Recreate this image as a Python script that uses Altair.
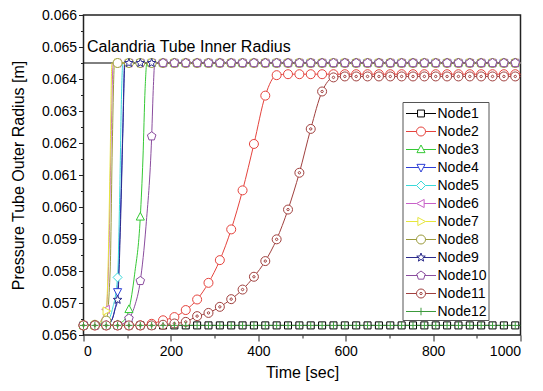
import re
import altair as alt
import pandas as pd

# ---------------- data ----------------
T = [0, 26, 52, 78, 104, 130, 156, 182, 208, 234, 260, 286, 312,
     338, 364, 390, 416, 442, 468, 494, 520, 546, 572, 598, 624, 650,
     676, 702, 728, 754, 780, 806, 832, 858, 884, 910, 936, 962, 988]

NODES = ["Node1", "Node2", "Node3", "Node4", "Node5", "Node6",
         "Node7", "Node8", "Node9", "Node10", "Node11", "Node12"]

node1 = [0.05630, 0.05630, 0.05630, 0.05630, 0.05630, 0.05630, 0.05630, 0.05630, 0.05630, 0.05630, 0.05630, 0.05630, 0.05630,
         0.05630, 0.05630, 0.05630, 0.05630, 0.05630, 0.05630, 0.05630, 0.05630, 0.05630, 0.05630, 0.05630, 0.05630, 0.05630,
         0.05630, 0.05630, 0.05630, 0.05630, 0.05630, 0.05630, 0.05630, 0.05630, 0.05630, 0.05630, 0.05630, 0.05630, 0.05630]
node2 = [0.05630, 0.05630, 0.05630, 0.05630, 0.05630, 0.05630, 0.05635, 0.05646, 0.05656, 0.05678, 0.05711, 0.05763, 0.05834,
         0.05930, 0.06052, 0.06197, 0.06348, 0.06412, 0.06415, 0.06415, 0.06415, 0.06415, 0.06415, 0.06415, 0.06415, 0.06415,
         0.06415, 0.06415, 0.06415, 0.06415, 0.06415, 0.06415, 0.06415, 0.06415, 0.06415, 0.06415, 0.06415, 0.06415, 0.06415]
node3 = [0.05630, 0.05630, 0.05630, 0.05633, 0.05680, 0.05969, 0.06450, 0.06450, 0.06450, 0.06450, 0.06450, 0.06450, 0.06450,
         0.06450, 0.06450, 0.06450, 0.06450, 0.06450, 0.06450, 0.06450, 0.06450, 0.06450, 0.06450, 0.06450, 0.06450, 0.06450,
         0.06450, 0.06450, 0.06450, 0.06450, 0.06450, 0.06450, 0.06450, 0.06450, 0.06450, 0.06450, 0.06450, 0.06450, 0.06450]
node4 = [0.05630, 0.05630, 0.05630, 0.05735, 0.06450, 0.06450, 0.06450, 0.06450, 0.06450, 0.06450, 0.06450, 0.06450, 0.06450,
         0.06450, 0.06450, 0.06450, 0.06450, 0.06450, 0.06450, 0.06450, 0.06450, 0.06450, 0.06450, 0.06450, 0.06450, 0.06450,
         0.06450, 0.06450, 0.06450, 0.06450, 0.06450, 0.06450, 0.06450, 0.06450, 0.06450, 0.06450, 0.06450, 0.06450, 0.06450]
node5 = [0.05630, 0.05630, 0.05640, 0.05780, 0.06450, 0.06450, 0.06450, 0.06450, 0.06450, 0.06450, 0.06450, 0.06450, 0.06450,
         0.06450, 0.06450, 0.06450, 0.06450, 0.06450, 0.06450, 0.06450, 0.06450, 0.06450, 0.06450, 0.06450, 0.06450, 0.06450,
         0.06450, 0.06450, 0.06450, 0.06450, 0.06450, 0.06450, 0.06450, 0.06450, 0.06450, 0.06450, 0.06450, 0.06450, 0.06450]
node6 = [0.05630, 0.05630, 0.05680, 0.06450, 0.06450, 0.06450, 0.06450, 0.06450, 0.06450, 0.06450, 0.06450, 0.06450, 0.06450,
         0.06450, 0.06450, 0.06450, 0.06450, 0.06450, 0.06450, 0.06450, 0.06450, 0.06450, 0.06450, 0.06450, 0.06450, 0.06450,
         0.06450, 0.06450, 0.06450, 0.06450, 0.06450, 0.06450, 0.06450, 0.06450, 0.06450, 0.06450, 0.06450, 0.06450, 0.06450]
node7 = [0.05630, 0.05630, 0.05675, 0.06450, 0.06450, 0.06450, 0.06450, 0.06450, 0.06450, 0.06450, 0.06450, 0.06450, 0.06450,
         0.06450, 0.06450, 0.06450, 0.06450, 0.06450, 0.06450, 0.06450, 0.06450, 0.06450, 0.06450, 0.06450, 0.06450, 0.06450,
         0.06450, 0.06450, 0.06450, 0.06450, 0.06450, 0.06450, 0.06450, 0.06450, 0.06450, 0.06450, 0.06450, 0.06450, 0.06450]
node8 = [0.05630, 0.05632, 0.05645, 0.06450, 0.06450, 0.06450, 0.06450, 0.06450, 0.06450, 0.06450, 0.06450, 0.06450, 0.06450,
         0.06450, 0.06450, 0.06450, 0.06450, 0.06450, 0.06450, 0.06450, 0.06450, 0.06450, 0.06450, 0.06450, 0.06450, 0.06450,
         0.06450, 0.06450, 0.06450, 0.06450, 0.06450, 0.06450, 0.06450, 0.06450, 0.06450, 0.06450, 0.06450, 0.06450, 0.06450]
node9 = [0.05630, 0.05630, 0.05630, 0.05710, 0.06450, 0.06450, 0.06450, 0.06450, 0.06450, 0.06450, 0.06450, 0.06450, 0.06450,
         0.06450, 0.06450, 0.06450, 0.06450, 0.06450, 0.06450, 0.06450, 0.06450, 0.06450, 0.06450, 0.06450, 0.06450, 0.06450,
         0.06450, 0.06450, 0.06450, 0.06450, 0.06450, 0.06450, 0.06450, 0.06450, 0.06450, 0.06450, 0.06450, 0.06450, 0.06450]
node10 = [0.05630, 0.05630, 0.05630, 0.05630, 0.05652, 0.05769, 0.06221, 0.06450, 0.06450, 0.06450, 0.06450, 0.06450, 0.06450,
          0.06450, 0.06450, 0.06450, 0.06450, 0.06450, 0.06450, 0.06450, 0.06450, 0.06450, 0.06450, 0.06450, 0.06450, 0.06450,
          0.06450, 0.06450, 0.06450, 0.06450, 0.06450, 0.06450, 0.06450, 0.06450, 0.06450, 0.06450, 0.06450, 0.06450, 0.06450]
node11 = [0.05630, 0.05630, 0.05630, 0.05630, 0.05630, 0.05630, 0.05630, 0.05632, 0.05636, 0.05641, 0.05659, 0.05669, 0.05688,
          0.05712, 0.05742, 0.05782, 0.05831, 0.05899, 0.05992, 0.06107, 0.06244, 0.06361, 0.06405, 0.06408, 0.06408, 0.06408,
          0.06408, 0.06408, 0.06408, 0.06408, 0.06408, 0.06408, 0.06408, 0.06408, 0.06408, 0.06408, 0.06408, 0.06408, 0.06408]
node12 = [0.05630, 0.05630, 0.05630, 0.05630, 0.05630, 0.05630, 0.05630, 0.05630, 0.05630, 0.05630, 0.05630, 0.05630, 0.05630,
          0.05630, 0.05630, 0.05630, 0.05630, 0.05630, 0.05630, 0.05630, 0.05630, 0.05630, 0.05630, 0.05630, 0.05630, 0.05630,
          0.05630, 0.05630, 0.05630, 0.05630, 0.05630, 0.05630, 0.05630, 0.05630, 0.05630, 0.05630, 0.05630, 0.05630, 0.05630]

VALUES = [node1, node2, node3, node4, node5, node6,
          node7, node8, node9, node10, node11, node12]

# extra line points (no symbol) along the steep rises
EXTRA_T = {
    "Node3": [92, 117, 136, 141, 145],
    "Node4": [64, 71, 85, 90, 94],
    "Node5": [66, 83, 87, 90],
    "Node6": [58, 63, 68],
    "Node7": [56, 61, 65],
    "Node8": [61, 66, 71],
    "Node9": [66, 72, 85, 90, 95],
    "Node10": [117, 143, 160, 163],
}
EXTRA_V = {
    "Node3": [0.05645, 0.05790, 0.06150, 0.06370, 0.06450],
    "Node4": [0.05645, 0.05675, 0.06000, 0.06250, 0.06450],
    "Node5": [0.05680, 0.06050, 0.06350, 0.06450],
    "Node6": [0.05850, 0.06200, 0.06450],
    "Node7": [0.05800, 0.06150, 0.06450],
    "Node8": [0.05800, 0.06200, 0.06450],
    "Node9": [0.05650, 0.05680, 0.05960, 0.06230, 0.06450],
    "Node10": [0.05690, 0.05940, 0.06380, 0.06450],
}
T_END = 1000
CALANDRIA = 0.0645

X_TICKS = [0, 100, 200, 300, 400, 500, 600, 700, 800, 900, 1000]
Y_TICKS = [0.056, 0.0565, 0.057, 0.0575, 0.058, 0.0585, 0.059, 0.0595, 0.060, 0.0605,
           0.061, 0.0615, 0.062, 0.0625, 0.063, 0.0635, 0.064, 0.0645, 0.065, 0.0655, 0.066]

# ---------------- styles ----------------
COLORS = ["#000000", "#E5433D", "#35C935", "#2E3FD6", "#3ADADA", "#C860C8",
          "#E6E63C", "#9A9A3A", "#2C2C8C", "#8A4C9E", "#A0403E", "#3C9A3C"]

CIRCLE = "M1,0A1,1 0 1,1 -1,0A1,1 0 1,1 1,0Z"
PLOT_SHAPES = [
    "M-0.78,-0.78L0.78,-0.78L0.78,0.78L-0.78,0.78Z",
    CIRCLE,
    "M0,-1L0.9,0.7L-0.9,0.7Z",
    "M0,1L0.9,-0.7L-0.9,-0.7Z",
    "M0,-1L1,0L0,1L-1,0Z",
    "M-1,0L0.7,-0.9L0.7,0.9Z",
    "M1,0L-0.7,-0.9L-0.7,0.9Z",
    CIRCLE,
    "M0,-1L0.247,-0.34L0.951,-0.309L0.399,0.13L0.588,0.809L0,0.42L-0.588,0.809L-0.399,0.13L-0.951,-0.309L-0.247,-0.34Z",
    "M0,-1L0.951,-0.309L0.588,0.809L-0.588,0.809L-0.951,-0.309Z",
    CIRCLE + "M0.27,0A0.27,0.27 0 1,1 -0.27,0A0.27,0.27 0 1,1 0.27,0Z",
    "M-0.78,0L0.78,0M0,-0.78L0,0.78",
]
LC = "M0.3,0A0.3,0.3 0 1,1 -0.3,0A0.3,0.3 0 1,1 0.3,0Z"
LEG_BASE = [
    "M-1,0L-0.23,0M0.23,0L1,0M-0.23,-0.23L0.23,-0.23L0.23,0.23L-0.23,0.23Z",
    "M-1,0L-0.3,0M0.3,0L1,0" + LC,
    "M-1,0L-0.16,0M0.16,0L1,0M0,-0.3L0.27,0.21L-0.27,0.21Z",
    "M-1,0L-0.16,0M0.16,0L1,0M0,0.3L0.27,-0.21L-0.27,-0.21Z",
    "M-1,0L-0.3,0M0.3,0L1,0M0,-0.3L0.3,0L0,0.3L-0.3,0Z",
    "M-1,0L-0.3,0M0.21,0L1,0M-0.3,0L0.21,-0.27L0.21,0.27Z",
    "M-1,0L-0.21,0M0.3,0L1,0M0.3,0L-0.21,-0.27L-0.21,0.27Z",
    "M-1,0L-0.3,0M0.3,0L1,0" + LC,
    "M-1,0L-0.16,0M0.16,0L1,0M0,-0.3L0.074,-0.102L0.285,-0.093L0.12,0.039L0.176,0.243L0,0.126L-0.176,0.243L-0.12,0.039L-0.285,-0.093L-0.074,-0.102Z",
    "M-1,0L-0.255,0M0.255,0L1,0M0,-0.3L0.285,-0.093L0.176,0.243L-0.176,0.243L-0.285,-0.093Z",
    "M-1,0L-0.3,0M0.3,0L1,0" + LC + "M0.08,0A0.08,0.08 0 1,1 -0.08,0A0.08,0.08 0 1,1 0.08,0Z",
    "M-1,0L1,0M0,-0.25L0,0.25",
]


def _scale_path(p, k, dx):
    # scale path coordinates by k and shift x by dx (arc flags untouched)
    out = []
    for seg in re.split(r"(?=[MLAZ])", p):
        if not seg:
            continue
        cmd, body = seg[0], seg[1:]
        if cmd == "A":
            a = body.replace(" ", ",").split(",")
            out.append(f"A{float(a[0])*k:g},{float(a[1])*k:g} {a[2]} {a[3]},{a[4]} "
                       f"{float(a[5])*k + dx:g},{float(a[6])*k:g}")
        elif cmd == "Z":
            out.append("Z")
        else:
            x, y = body.split(",")
            out.append(f"{cmd}{float(x)*k + dx:g},{float(y)*k:g}")
    return "".join(out)


# legend symbol: unit = 10 px (symbolSize 400)
LEG_SHAPES = [_scale_path(p, 1.5, 0.7) for p in LEG_BASE]

FONT = "Liberation Sans"

# ---------------- table ----------------
rows = []
for i, (name, vals) in enumerate(zip(NODES, VALUES)):
    for t, v in zip(T, vals):
        rows.append({"node": name, "idx": i, "t": t, "v": v, "m": True})
    for t, v in zip(EXTRA_T.get(name, []), EXTRA_V.get(name, [])):
        rows.append({"node": name, "idx": i, "t": t, "v": v, "m": False})
    rows.append({"node": name, "idx": i, "t": T_END, "v": vals[-1], "m": False})
df = pd.DataFrame(rows).sort_values(["idx", "t"])

x_axis = alt.Axis(
    values=X_TICKS, format="d",
    labelExpr="datum.value % 200 === 0 ? datum.label : ''",
    tickSize={"condition": {"test": "datum.value % 200 === 0", "value": 6}, "value": 3},
    title="Time [sec]", grid=False, domain=False, labelOverlap=False,
    labelFontSize=14, titleFontSize=16, titleFontWeight="normal",
    labelPadding=3, titlePadding=6, tickColor="#222", labelColor="black",
)
y_axis = alt.Axis(
    values=Y_TICKS, format=".3f",
    labelExpr="round(datum.value * 2000) % 2 === 0 ? datum.label : ''",
    tickSize={"condition": {"test": "round(datum.value * 2000) % 2 === 0", "value": 5}, "value": 3},
    title="Pressure Tube Outer Radius  [m]", grid=False, domain=False, labelOverlap=False,
    labelFontSize=14, titleFontSize=16, titleFontWeight="normal",
    labelPadding=2, titlePadding=15, tickColor="#222", labelColor="black",
)
xs = alt.Scale(domain=[0, 1000], nice=False)
ys = alt.Scale(domain=[0.056, 0.066], nice=False, zero=False)

legend = alt.Legend(
    orient="none", legendX=319, legendY=87, title=None,
    labelFontSize=14, labelFont=FONT, symbolSize=400, symbolStrokeWidth=1,
    symbolOffset=0, labelOffset=13,
    padding=1, rowPadding=-2.5, strokeColor="#555",
    fillColor="white", symbolFillColor="transparent",
)

base = alt.Chart(df)

ref = alt.Chart(pd.DataFrame({"t": [0], "t2": [T_END], "v": [CALANDRIA]})).mark_rule(
    color="black", strokeWidth=1
).encode(x=alt.X("t:Q", scale=xs, axis=x_axis), x2="t2:Q", y=alt.Y("v:Q", scale=ys, axis=y_axis))

label = alt.Chart(pd.DataFrame({"t": [8], "v": [0.0650], "s": ["Calandria Tube Inner Radius"]})).mark_text(
    align="left", baseline="middle", fontSize=16, font=FONT, color="black"
).encode(x=alt.X("t:Q", scale=xs, axis=x_axis), y=alt.Y("v:Q", scale=ys, axis=y_axis), text="s:N")

lines = base.mark_line(strokeWidth=1, interpolate="monotone").encode(
    x=alt.X("t:Q", scale=xs, axis=x_axis), y=alt.Y("v:Q", scale=ys, axis=y_axis),
    stroke=alt.Stroke("node:N", scale=alt.Scale(domain=NODES, range=COLORS), legend=None),
    detail="node:N",
)

points = base.transform_filter("datum.m").mark_point(
    filled=True, fill="white", size=81, strokeWidth=1, opacity=1
).encode(
    x=alt.X("t:Q", scale=xs, axis=x_axis), y=alt.Y("v:Q", scale=ys, axis=y_axis),
    stroke=alt.Stroke("node:N", scale=alt.Scale(domain=NODES, range=COLORS), legend=None),
    shape=alt.Shape("node:N", scale=alt.Scale(domain=NODES, range=PLOT_SHAPES), legend=None),
    order=alt.Order("idx:Q"),
)

leg = base.transform_filter("false").mark_point(filled=False, strokeWidth=1, opacity=1).encode(
    x=alt.X("t:Q", scale=xs, axis=x_axis), y=alt.Y("v:Q", scale=ys, axis=y_axis),
    stroke=alt.Stroke("node:N", scale=alt.Scale(domain=NODES, range=COLORS), legend=legend),
    shape=alt.Shape("node:N", scale=alt.Scale(domain=NODES, range=LEG_SHAPES), legend=legend),
)

chart = alt.layer(ref, label, lines, points, leg).resolve_scale(
    stroke="independent", shape="independent"
).properties(
    width=437, height=320,
    padding={"left": 75.5, "top": 7, "right": 14, "bottom": 48},
    autosize="none",
).configure(font=FONT).configure_axis(labelOverlap=False).configure_view(
    stroke="#222", strokeWidth=1.5
)

chart.save("out.html", embed_options={"renderer": "svg", "actions": False})
